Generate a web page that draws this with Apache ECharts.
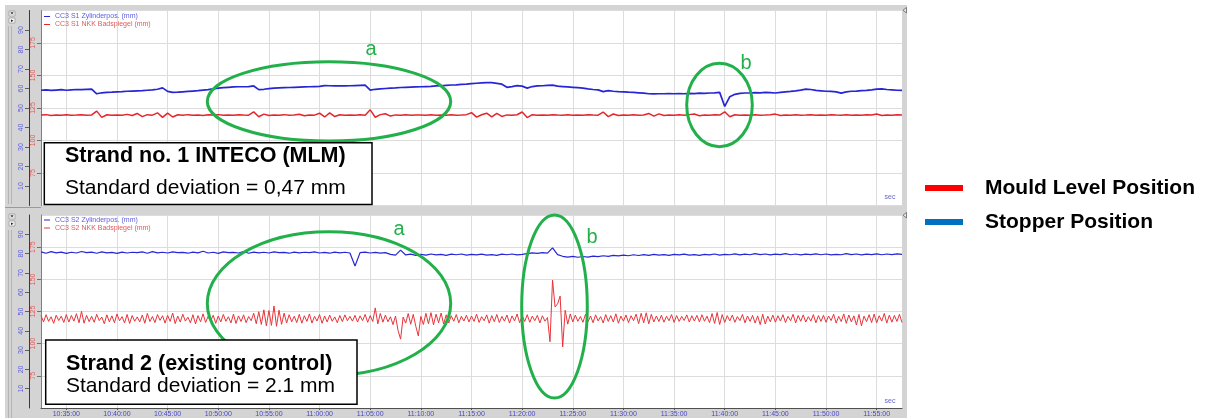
<!DOCTYPE html>
<html><head><meta charset="utf-8">
<script src="https://cdn.jsdelivr.net/npm/echarts@6/dist/echarts.min.js"></script>
<style>html,body{margin:0;padding:0;background:#fff}#c{width:1207px;height:418px}</style>
</head><body><div id="c"></div>
<script>
// time axis in minutes after midnight: 10:32:30 .. 11:57:30
const timeStart = 632.5;
const timeEnd = 717.5;
const slowStep = 0.5;   // 30 s samples
const fastStep = 0.25;  // 15 s samples
const tickMinutes = [635,640,645,650,655,660,665,670,675,680,685,690,695,700,705,710,715];

// Strand 1 stopper position (mm)
const stopper1 = [59.1,59.3,59.0,59.2,59.4,59.1,59.3,59.5,59.4,59.6,59.7,
57.3,57.8,58.0,58.1,58.3,58.4,58.6,58.7,58.8,58.9,
59.1,59.3,59.6,60.3,58.5,58.0,58.1,58.3,58.5,58.7,
58.9,59.2,59.4,59.8,60.2,60.4,60.6,60.8,60.9,60.9,
61.0,61.3,59.4,59.6,59.9,60.2,60.3,60.4,60.5,60.6,
60.7,60.8,60.9,61.0,61.1,61.5,61.4,61.3,61.4,61.3,
61.4,61.5,61.6,61.7,59.2,59.6,59.8,60.0,60.2,60.3,
60.5,60.6,60.7,60.8,60.9,61.0,61.1,61.3,61.4,61.6,
61.8,61.9,62.1,62.2,62.5,62.7,62.9,63.0,63.0,62.6,
62.2,60.6,61.0,61.5,61.2,60.2,61.0,61.3,61.4,61.6,
61.7,61.2,61.0,60.8,60.6,60.4,60.2,59.8,59.5,59.3,
58.4,58.9,58.6,58.4,58.3,58.1,58.0,57.8,57.6,57.3,
57.2,57.3,57.3,57.4,57.3,57.4,57.3,57.5,57.4,57.6,
57.5,57.7,57.8,58.0,50.8,55.8,57.0,57.5,57.7,57.7,
57.9,57.8,58.0,57.9,57.7,58.0,58.3,58.5,58.8,59.2,
59.7,59.5,59.0,58.8,58.6,58.5,58.3,57.6,58.3,58.6,
58.7,58.9,59.0,59.3,59.7,59.8,59.5,59.3,59.1,59.0];

// Strand 1 mould level (mm)
const mould1 = [119.6,119.9,119.3,119.7,119.5,119.8,119.4,119.6,119.9,119.5,119.7,
122.6,117.8,119.8,119.4,119.7,119.5,120.1,119.2,120.8,118.4,
119.9,119.5,121.3,117.8,121.1,118.1,119.8,119.4,119.9,119.5,
119.7,119.3,119.8,119.6,119.9,119.4,119.7,119.5,119.8,119.6,
119.5,122.0,118.3,120.3,119.2,119.7,119.5,119.9,119.4,119.6,
120.2,119.1,119.7,119.5,121.0,118.1,121.2,118.4,119.8,119.5,
119.7,119.4,119.8,119.5,123.6,117.9,119.9,120.6,118.8,119.7,
119.4,119.8,119.5,119.7,119.6,119.4,119.8,119.5,119.7,119.5,
119.8,119.4,119.6,119.9,121.4,118.0,119.8,121.0,118.2,120.8,
118.5,119.7,119.5,119.8,121.9,117.6,119.9,119.5,119.7,119.4,
119.8,119.6,119.5,119.8,119.4,119.7,119.5,119.8,119.6,119.5,
121.9,118.4,120.4,119.3,119.7,119.5,119.8,119.4,119.6,120.8,
118.7,120.5,119.2,119.7,119.5,119.8,119.4,119.9,120.4,119.1,
119.7,119.5,119.8,119.6,122.1,118.3,119.8,119.5,119.7,119.4,
119.8,119.5,119.6,119.9,120.3,119.2,119.7,119.5,119.8,119.4,
119.6,119.9,119.5,119.7,119.4,119.8,119.6,119.5,119.8,119.4,
119.7,119.5,119.8,119.6,120.4,119.2,119.7,119.5,119.8,119.6];

// Strand 2 stopper position (mm)
const stopper2 = [80.9,80.2,81.0,80.4,80.8,80.1,80.7,80.3,81.1,80.5,
80.8,80.2,80.9,80.4,80.6,80.1,80.8,80.3,80.7,80.5,
80.9,80.2,81.0,80.4,80.7,80.3,80.9,80.5,80.6,80.2,
80.8,80.4,81.2,80.3,80.7,80.1,80.9,80.5,80.6,80.3,
81.1,80.2,80.8,80.4,80.7,80.3,80.9,80.5,80.6,80.2,
80.8,80.4,80.7,80.5,80.9,80.3,80.6,80.2,80.8,80.4,
80.7,80.3,73.6,80.5,80.8,80.3,80.6,80.2,80.5,79.6,
79.2,81.8,79.3,79.7,79.1,79.6,79.2,79.8,79.3,79.6,
79.1,79.7,79.4,79.8,79.2,79.6,79.3,79.7,79.2,79.5,
79.1,79.7,79.4,79.8,79.3,79.6,80.0,80.4,80.1,80.5,
80.2,83.0,79.5,78.6,78.2,78.6,78.1,78.5,78.2,78.7,
78.4,78.9,78.6,79.1,78.8,79.2,78.9,79.4,79.0,79.5,
79.1,79.6,79.2,79.5,79.1,79.6,79.3,79.7,79.2,79.5,
79.1,79.6,79.3,79.8,79.2,79.6,79.4,79.9,79.3,79.7,
79.4,80.0,79.5,79.8,79.3,79.7,79.5,80.0,79.4,79.8,
79.3,79.7,79.5,79.9,79.4,79.8,79.3,79.6,79.4,80.0,
79.5,79.8,79.3,79.7,79.5,79.9,79.4,79.8,79.5,79.9,
79.6];

// Strand 2 mould level (mm), 15 s samples
const mould2 = [121.8,116.9,122.5,117.3,120.9,115.8,122.1,118.0,121.4,116.5,
122.6,116.8,121.9,117.5,123.3,116.2,125.1,115.9,122.0,117.1,
121.3,116.6,122.8,117.9,120.7,115.5,122.4,117.0,121.6,116.3,
123.1,117.8,121.0,116.1,122.7,115.7,121.9,117.4,120.8,116.9,
122.3,115.9,123.5,117.2,121.1,116.4,122.6,118.1,121.7,116.0,
122.0,117.3,123.8,115.6,121.4,116.8,122.9,117.5,120.6,116.2,
122.5,115.4,121.8,117.0,123.2,116.5,121.2,117.7,122.1,115.8,
121.5,116.9,122.7,117.4,120.9,116.1,123.0,115.7,121.6,117.2,
122.4,116.3,121.1,117.8,123.6,115.5,124.8,114.9,126.3,113.8,
125.7,114.2,129.3,113.5,126.0,115.0,123.7,116.1,122.5,117.0,
121.3,116.4,122.8,115.9,121.7,117.3,123.1,116.0,121.2,117.6,
122.6,115.8,121.5,116.9,122.2,117.4,120.8,116.3,121.9,117.1,
122.4,117.8,121.2,117.5,122.0,116.8,121.6,117.9,122.7,116.6,
121.8,117.2,127.8,115.4,123.5,116.7,122.2,117.0,120.9,114.8,
121.5,110.2,103.5,120.7,116.0,123.4,115.1,122.8,113.6,106.0,
121.2,114.9,123.6,115.5,124.1,114.7,122.9,116.3,123.8,115.2,
122.4,116.1,121.7,117.4,122.6,116.2,121.3,117.6,122.1,116.8,
121.5,117.3,122.9,116.5,121.0,117.8,122.4,115.9,121.8,117.1,
122.7,116.4,121.2,117.5,122.3,116.0,121.6,117.7,123.0,116.3,
121.9,117.2,122.5,116.6,121.4,117.9,122.0,116.1,121.7,117.5,
120.3,101.5,149.5,128.5,131.0,137.0,97.5,126.0,115.2,123.1,
116.9,122.2,117.4,121.1,116.6,122.8,117.0,121.5,116.3,122.4,
117.7,121.0,116.1,122.6,117.3,121.8,116.8,123.2,115.9,121.4,
117.5,122.3,116.4,121.7,117.9,122.9,115.6,123.6,116.2,124.0,
115.4,122.8,116.9,121.5,117.2,122.1,116.7,121.3,117.8,122.6,
116.5,121.9,117.3,121.2,118.0,122.4,116.8,121.7,117.6,122.0,
116.9,122.5,117.4,121.4,116.3,123.4,115.7,124.2,114.9,122.6,
116.5,121.8,117.7,122.3,116.6,121.1,117.9,122.7,116.2,121.5,
117.3,122.0,116.0,121.6,114.8,122.9,115.3,121.4,117.0,122.2,
116.7,121.7,117.6,122.5,116.4,121.3,117.8,122.8,116.1,121.9,
117.4,122.4,116.8,121.0,117.5,122.6,116.2,121.8,117.3,122.1,
116.6,121.5,117.9,122.9,116.0,121.2,117.2,123.1,115.8,122.3,
116.9,121.6,114.5,122.7,113.9,121.4,117.1,122.5,116.4,123.0,
116.2,121.7,117.5,123.5,116.0,122.2,116.7,121.9,117.3,122.8,
116.4];

const names1 = ['CC3 S1 Zylinderpos. (mm)', 'CC3 S1 NKK Badspiegel (mm)'];
const names2 = ['CC3 S2 Zylinderpos. (mm)', 'CC3 S2 NKK Badspiegel (mm)'];
const legendNames = ['Mould Level Position', 'Stopper Position'];

function pairs(arr, step) { return arr.map((v, i) => [timeStart + i * step, v]); }
function fmtTime(v) {
  const h = Math.floor(v / 60), m = Math.round(v - h * 60);
  return h + ':' + String(m).padStart(2, '0') + ':00';
}

const FONT = '"Liberation Sans", Arial, sans-serif';
const BLUE = '#2626d6', RED = '#e4252b';
const BLUE_LBL = '#5c5ce0', RED_LBL = '#e05a5a';
const GRID_CLR = '#dcdcdc';
const GREEN = '#22b04b';
const FRAME = '#d4d4d4';

function xAxisFor(gi, showLabels) {
  return {
    type: 'value', gridIndex: gi, min: timeStart, max: timeEnd,
    axisLine: { show: showLabels, lineStyle: { color: '#505050', width: 1 } },
    axisTick: { show: showLabels, length: 2, customValues: tickMinutes, lineStyle: { color: '#505050' } },
    axisLabel: { show: showLabels, customValues: tickMinutes, formatter: fmtTime,
      fontSize: 7, fontFamily: FONT, color: '#4848c8', margin: 3 },
    splitLine: { show: true, lineStyle: { color: GRID_CLR, width: 1 } }
  };
}
function blueAxis(gi) {
  return {
    type: 'value', gridIndex: gi, position: 'left', offset: 12, min: 0, max: 100, interval: 10,
    axisLine: { show: true, lineStyle: { color: '#3a3a3a', width: 1 } },
    axisTick: { show: true, length: 4, lineStyle: { color: '#606060' } },
    axisLabel: { rotate: 90, fontSize: 7, fontFamily: FONT, color: BLUE_LBL, margin: 4,
      showMinLabel: false, showMaxLabel: false },
    splitLine: { show: false }
  };
}
function redAxis(gi) {
  return {
    type: 'value', gridIndex: gi, position: 'left', offset: 0, min: 50, max: 200, interval: 25,
    axisLine: { show: true, lineStyle: { color: '#808080', width: 1 } },
    axisTick: { show: true, length: 4, lineStyle: { color: '#707070' } },
    axisLabel: { rotate: 90, fontSize: 7, fontFamily: FONT, color: RED_LBL, margin: 4,
      showMinLabel: false, showMaxLabel: false },
    splitLine: { show: true, lineStyle: { color: GRID_CLR, width: 1 } }
  };
}
function inLegend(names, top) {
  return {
    data: [
      { name: names[0], textStyle: { color: BLUE_LBL } },
      { name: names[1], textStyle: { color: RED_LBL } }
    ],
    orient: 'vertical', left: 44, top: top, padding: 0, itemGap: 1,
    icon: 'rect', itemWidth: 6, itemHeight: 1, selectedMode: false,
    textStyle: { fontSize: 7, fontFamily: FONT }
  };
}

function rect(x, y, w, h, fill, z) {
  return { type: 'rect', z: z, silent: true, shape: { x: x, y: y, width: w, height: h }, style: { fill: fill } };
}
function txt(x, y, s, font, fill, align, z) {
  return { type: 'text', z: z || 22, silent: true, style: { text: s, x: x, y: y, font: font, fill: fill,
    align: align || 'left', textAlign: align || 'left', verticalAlign: 'middle', textVerticalAlign: 'middle' } };
}
function ell(cx, cy, rx, ry) {
  return { type: 'ellipse', z: 18, silent: true, shape: { cx: cx, cy: cy, rx: rx, ry: ry },
    style: { fill: 'none', stroke: GREEN, lineWidth: 3 } };
}
function box(x, y, w, h) {
  return { type: 'rect', z: 20, silent: true, shape: { x: x, y: y, width: w, height: h },
    style: { fill: '#ffffff', stroke: '#000000', lineWidth: 1.5 } };
}
function line(x1, y1, x2, y2, c) {
  return { type: 'line', z: -4, silent: true, shape: { x1: x1, y1: y1, x2: x2, y2: y2 }, style: { stroke: c, lineWidth: 1 } };
}

const graphics = [
  // window frame
  rect(5, 5, 36, 413, FRAME, -5),
  rect(41, 5, 866, 5.5, FRAME, -5),
  rect(41, 205.5, 866, 9.5, FRAME, -5),
  rect(41, 409, 866, 9, FRAME, -5),
  rect(902, 5, 5, 413, FRAME, -5),
  line(8.5, 26, 8.5, 204, '#b4b4b4'), line(11.5, 26, 11.5, 204, '#b4b4b4'),
  line(8.5, 230, 8.5, 418, '#b4b4b4'), line(11.5, 230, 11.5, 418, '#b4b4b4'),
  line(5, 207.5, 41, 207.5, '#9a9a9a'),
  // small buttons
  { type: 'rect', z: -3, silent: true, shape: { x: 9, y: 11, width: 6, height: 5 }, style: { fill: '#f4f4f4', stroke: '#8a8a8a', lineWidth: 0.6 } },
  { type: 'rect', z: -3, silent: true, shape: { x: 9, y: 18, width: 6, height: 5 }, style: { fill: '#f4f4f4', stroke: '#8a8a8a', lineWidth: 0.6 } },
  { type: 'rect', z: -3, silent: true, shape: { x: 9, y: 214, width: 6, height: 5 }, style: { fill: '#f4f4f4', stroke: '#8a8a8a', lineWidth: 0.6 } },
  { type: 'rect', z: -3, silent: true, shape: { x: 9, y: 221, width: 6, height: 5 }, style: { fill: '#f4f4f4', stroke: '#8a8a8a', lineWidth: 0.6 } },
  txt(12, 13.5, '×', 'bold 6px ' + FONT, '#202020', 'center', -2),
  txt(12, 20.5, '▸', '5px ' + FONT, '#202020', 'center', -2),
  txt(12, 216.5, '×', 'bold 6px ' + FONT, '#202020', 'center', -2),
  txt(12, 223.5, '▸', '5px ' + FONT, '#202020', 'center', -2),
  { type: 'polygon', z: -2, silent: true, shape: { points: [[906.5, 7.5], [906.5, 13], [903, 10.25]] }, style: { fill: '#e8e8e8', stroke: '#555555', lineWidth: 0.7 } },
  { type: 'polygon', z: -2, silent: true, shape: { points: [[906.5, 212.5], [906.5, 218], [903, 215.25]] }, style: { fill: '#e8e8e8', stroke: '#555555', lineWidth: 0.7 } },
  // 'sec' units
  txt(890, 197, 'sec', '7px ' + FONT, '#6464d2', 'center', 6),
  txt(890, 401, 'sec', '7px ' + FONT, '#6464d2', 'center', 6),
  // highlight ellipses and marks
  ell(329, 101.4, 121.7, 39.7),
  ell(719.5, 105, 32.8, 41.7),
  ell(329, 303.5, 121.7, 71.8),
  ell(554.5, 306.5, 32.8, 91.5),
  txt(371, 49, 'a', '20px ' + FONT, GREEN, 'center'),
  txt(746, 63.5, 'b', '20px ' + FONT, GREEN, 'center'),
  txt(399, 229, 'a', '20px ' + FONT, GREEN, 'center'),
  txt(592, 237, 'b', '20px ' + FONT, GREEN, 'center'),
  // annotation boxes (drawn over the ellipses)
  box(44.3, 142.7, 327.7, 61.8),
  txt(65, 156, 'Strand no. 1 INTECO (MLM)', 'bold 21.5px ' + FONT, '#000000'),
  txt(65, 188.5, 'Standard deviation = 0,47 mm', '21px ' + FONT, '#000000'),
  box(45.7, 340, 311.3, 64.3),
  txt(66, 364, 'Strand 2 (existing control)', 'bold 21.5px ' + FONT, '#000000'),
  txt(66, 386.5, 'Standard deviation = 2.1 mm', '21px ' + FONT, '#000000')
];

const chart = echarts.init(document.getElementById('c'), null, { renderer: 'canvas' });
chart.setOption({
  backgroundColor: '#ffffff',
  animation: false,
  grid: [
    { left: 41, top: 10.5, width: 861, height: 195, containLabel: false },
    { left: 41, top: 215, width: 861, height: 194, containLabel: false }
  ],
  xAxis: [xAxisFor(0, false), xAxisFor(1, true)],
  yAxis: [blueAxis(0), redAxis(0), blueAxis(1), redAxis(1)],
  legend: [
    inLegend(names1, 13),
    inLegend(names2, 216.5),
    {
      data: legendNames, orient: 'vertical', left: 925, top: 177.5, padding: 0, itemGap: 13,
      icon: 'rect', itemWidth: 38, itemHeight: 6, selectedMode: false,
      textStyle: { fontSize: 21, fontWeight: 'bold', fontFamily: FONT, color: '#000000', padding: [0, 0, 0, 17] }
    }
  ],
  series: [
    { name: names1[0], type: 'line', xAxisIndex: 0, yAxisIndex: 0, data: pairs(stopper1, slowStep),
      symbol: 'none', color: BLUE, lineStyle: { width: 1.7, color: BLUE }, z: 3 },
    { name: names1[1], type: 'line', xAxisIndex: 0, yAxisIndex: 1, data: pairs(mould1, slowStep),
      symbol: 'none', color: RED, lineStyle: { width: 1.5, color: RED }, z: 3 },
    { name: names2[0], type: 'line', xAxisIndex: 1, yAxisIndex: 2, data: pairs(stopper2, slowStep),
      symbol: 'none', color: BLUE, lineStyle: { width: 1.2, color: BLUE }, z: 3 },
    { name: names2[1], type: 'line', xAxisIndex: 1, yAxisIndex: 3, data: pairs(mould2, fastStep),
      symbol: 'none', color: '#e8343a', lineStyle: { width: 1, color: '#e8343a' }, z: 3 },
    { name: legendNames[0], type: 'line', xAxisIndex: 0, yAxisIndex: 1, data: [], color: '#ff0000' },
    { name: legendNames[1], type: 'line', xAxisIndex: 0, yAxisIndex: 0, data: [], color: '#0070c0' }
  ],
  graphic: { elements: graphics }
});
</script>
</body></html>
